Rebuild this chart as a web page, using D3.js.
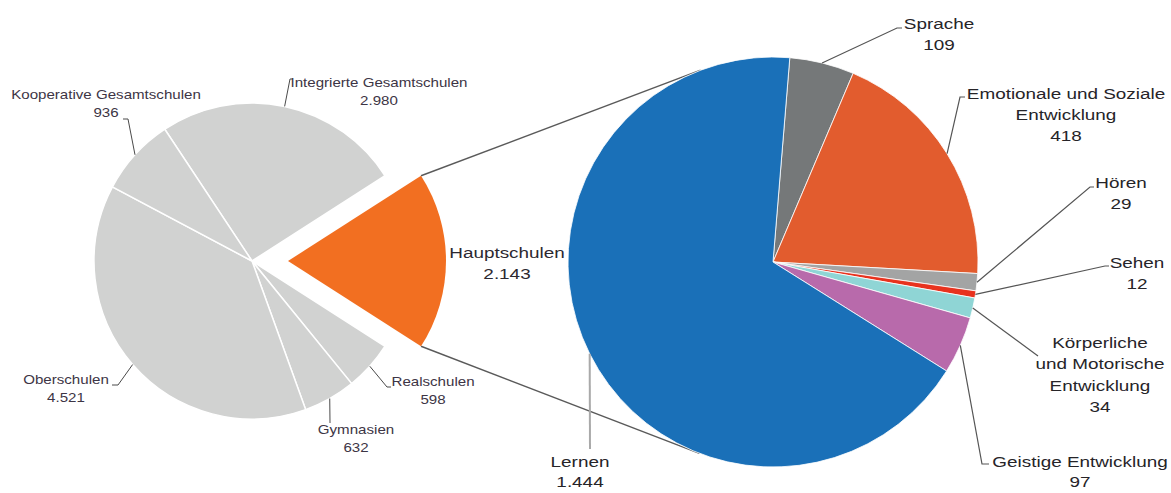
<!DOCTYPE html>
<html>
<head>
<meta charset="utf-8">
<script src="https://cdn.jsdelivr.net/npm/d3@7"></script>
<style>
  body { margin: 0; background: #fff; }
  svg { display: block; }
  text { font-family: "Liberation Sans", Arial, sans-serif; }
</style>
</head>
<body>
<div id="chart"></div>
<script>
// left pie: school types
const schoolNames = ["Integrierte Gesamtschulen", "Hauptschulen", "Realschulen", "Gymnasien", "Oberschulen", "Kooperative Gesamtschulen"];
const schoolValues = [2980, 2143, 598, 632, 4521, 936];
const highlighted = "Hauptschulen";

// right pie: breakdown of Hauptschulen by Förderschwerpunkt
const focusNames = ["Sprache", "Emotionale und Soziale Entwicklung", "Hören", "Sehen", "Körperliche und Motorische Entwicklung", "Geistige Entwicklung", "Lernen"];
const focusValues = [109, 418, 29, 12, 34, 97, 1444];
const focusLabelLines = [["Sprache"], ["Emotionale und Soziale", "Entwicklung"], ["Hören"], ["Sehen"], ["Körperliche", "und Motorische", "Entwicklung"], ["Geistige Entwicklung"], ["Lernen"]];
const focusColors = ["#757879", "#e25c2e", "#a3a4a4", "#e8321e", "#8fd5d5", "#b86aab", "#1a70b8"];

// label layout (anchor = text centre / first baseline, elbow = leader line points)
const schoolLabelLayout = [
    { anchor: [379, 87], elbow: [[290, 79], [293, 79]] },
    { anchor: [507, 258], elbow: null },
    { anchor: [433, 386], elbow: [[387, 387], [391, 387]] },
    { anchor: [356, 434], elbow: [[330, 423]] },
    { anchor: [66, 384], elbow: [[118, 385], [112, 385]] },
    { anchor: [106, 99], elbow: [[128, 119], [123, 119]] }
];
const focusLabelLayout = [
    { anchor: [939, 28.5], elbow: [[897, 28], [902, 28]] },
    { anchor: [1066, 98.5], elbow: [[960, 97], [965, 97]] },
    { anchor: [1121, 188], elbow: [[1090, 187], [1094, 187]] },
    { anchor: [1137, 268], elbow: [[1105, 266], [1109, 266]] },
    { anchor: [1100, 348], elbow: [[1038, 356]] },
    { anchor: [1080, 467], elbow: [[982, 464], [989, 464]] },
    { anchor: [580, 467], elbow: [[590, 449]] }
];

const width = 1171, height = 493;
const fmt = d3.formatLocale({ decimal: ",", thousands: ".", grouping: [3], currency: ["", "€"] }).format(",d");
const stretch = 1.26;

const svg = d3.select("#chart").append("svg")
    .attr("width", width)
    .attr("height", height);

const leftC = [252, 261], leftR = 158, explode = 36;
const rightC = [773, 262], rightR = 205;

// left pie, rotated so the highlighted slice points right
const total = d3.sum(schoolValues);
const hiIdx = schoolNames.indexOf(highlighted);
const before = d3.sum(schoolValues.slice(0, hiIdx));
const leftStart = Math.PI / 2 - (before + schoolValues[hiIdx] / 2) / total * 2 * Math.PI;

const leftPie = d3.pie().sort(null).value(d => d)
    .startAngle(leftStart).endAngle(leftStart + 2 * Math.PI);
const leftArcs = leftPie(schoolValues);
const leftArc = d3.arc().innerRadius(0).outerRadius(leftR);
const edgeArc = r => d3.arc().innerRadius(r).outerRadius(r);

const hiArc = leftArcs[hiIdx];
const hiMid = (hiArc.startAngle + hiArc.endAngle) / 2;
const hiOff = [explode * Math.sin(hiMid), -explode * Math.cos(hiMid)];

// connector lines tangent to the right pie
function polar(c, r, a) { return [c[0] + r * Math.sin(a), c[1] - r * Math.cos(a)]; }
function tangentPoints(p) {
    const dx = p[0] - rightC[0], dy = p[1] - rightC[1];
    const d = Math.hypot(dx, dy);
    const phi = Math.atan2(dy, dx), t = Math.acos(rightR / d);
    return [phi + t, phi - t].map(a => [rightC[0] + rightR * Math.cos(a), rightC[1] + rightR * Math.sin(a)]);
}
const cornerTop = polar([leftC[0] + hiOff[0], leftC[1] + hiOff[1]], leftR, hiArc.startAngle);
const cornerBot = polar([leftC[0] + hiOff[0], leftC[1] + hiOff[1]], leftR, hiArc.endAngle);
const tTop = tangentPoints(cornerTop).sort((a, b) => a[1] - b[1])[0];
const tBot = tangentPoints(cornerBot).sort((a, b) => b[1] - a[1])[0];

svg.append("g").selectAll("line")
    .data([[cornerTop, tTop], [cornerBot, tBot]])
    .enter().append("line")
    .attr("x1", d => d[0][0]).attr("y1", d => d[0][1])
    .attr("x2", d => d[1][0]).attr("y2", d => d[1][1])
    .attr("stroke", "#5a5a5a")
    .attr("stroke-width", 1.4);

const leftG = svg.append("g").attr("transform", `translate(${leftC})`);
leftG.selectAll("path")
    .data(leftArcs)
    .enter().append("path")
    .attr("d", leftArc)
    .attr("transform", (d, i) => i === hiIdx ? `translate(${hiOff})` : null)
    .attr("fill", (d, i) => i === hiIdx ? "#f26f21" : "#d1d2d1")
    .attr("stroke", (d, i) => i === hiIdx ? "none" : "#fff")
    .attr("stroke-width", 1.5);

// right pie
const rightStart = 4.7 * Math.PI / 180;
const rightPie = d3.pie().sort(null).value(d => d)
    .startAngle(rightStart).endAngle(rightStart + 2 * Math.PI);
const rightArcs = rightPie(focusValues);
const rightArc = d3.arc().innerRadius(0).outerRadius(rightR);

const rightG = svg.append("g").attr("transform", `translate(${rightC})`);
rightG.selectAll("path")
    .data(rightArcs)
    .enter().append("path")
    .attr("d", rightArc)
    .attr("fill", (d, i) => focusColors[i])
    .attr("stroke", "#fff")
    .attr("stroke-width", 0.8);

// leader lines
function leader(c, r, arc, elbow, color, w) {
    const p = edgeArc(r).centroid(arc);
    const pts = [[p[0] + c[0], p[1] + c[1]]].concat(elbow);
    svg.append("path")
        .attr("d", d3.line()(pts))
        .attr("fill", "none")
        .attr("stroke", color)
        .attr("stroke-width", w);
}
leftArcs.forEach((a, i) => {
    if (schoolLabelLayout[i].elbow) leader(leftC, leftR, a, schoolLabelLayout[i].elbow, "#4a4a4a", 1);
});
rightArcs.forEach((a, i) => {
    const isBig = focusNames[i] === "Lernen";
    leader(rightC, rightR, a, focusLabelLayout[i].elbow, isBig ? "#a9a9a9" : "#555", isBig ? 2 : 1.2);
});

// labels
function label(anchor, lines, size, lineH, color) {
    const t = svg.append("text")
        .attr("transform", `translate(${anchor}) scale(${stretch},1)`)
        .attr("text-anchor", "middle")
        .attr("font-size", size)
        .attr("fill", color);
    lines.forEach((s, k) => {
        t.append("tspan").attr("x", 0).attr("y", k * lineH).text(s);
    });
}
schoolNames.forEach((n, i) => {
    if (i === hiIdx) label(schoolLabelLayout[i].anchor, [n, fmt(schoolValues[i])], 15, 21, "#2c2830");
    else label(schoolLabelLayout[i].anchor, [n, fmt(schoolValues[i])], 12, 18.5, "#3d3545");
});
focusNames.forEach((n, i) => {
    const lh = focusLabelLines[i].length === 1 && focusLayoutBottom(i) ? 20 : 21.5;
    label(focusLabelLayout[i].anchor, focusLabelLines[i].concat([fmt(focusValues[i])]), 15, lh, "#262428");
});
function focusLayoutBottom(i) { return focusLabelLayout[i].anchor[1] > 440; }
</script>
</body>
</html>
